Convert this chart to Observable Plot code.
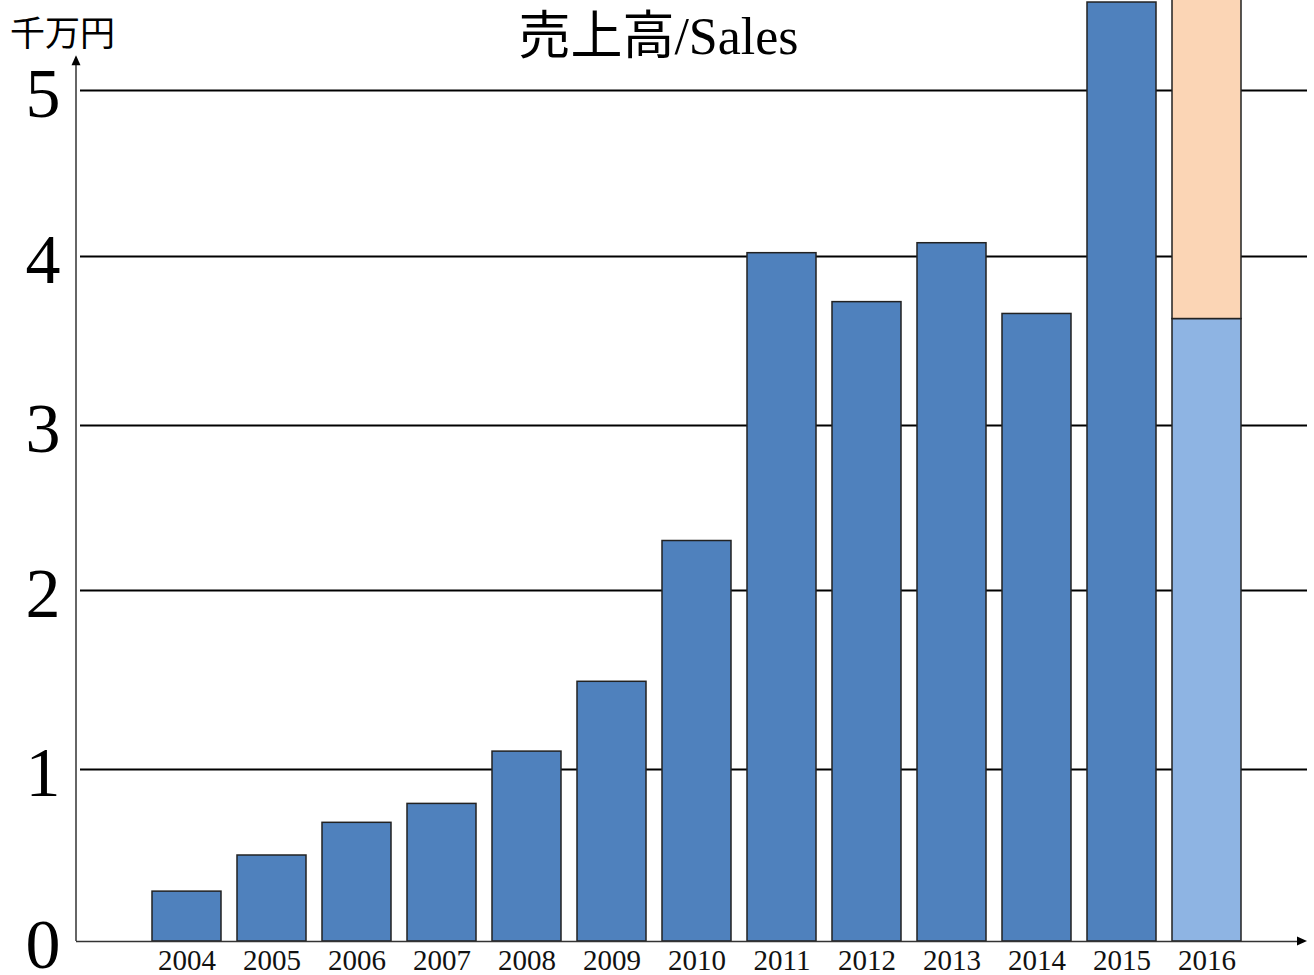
<!DOCTYPE html>
<html>
<head>
<meta charset="utf-8">
<script src="https://cdn.jsdelivr.net/npm/d3@7"></script>
<script src="https://cdn.jsdelivr.net/npm/@observablehq/plot@0.6"></script>
<style>
  html, body { margin: 0; padding: 0; background: #fff; overflow: hidden; }
</style>
</head>
<body>
<div id="chart"></div>
<script>
// ---- data ----
const years = ["2004","2005","2006","2007","2008","2009","2010","2011","2012","2013","2014","2015","2016"];
const salesActual = [0.29, 0.50, 0.69, 0.80, 1.10, 1.49, 2.30, 4.02, 3.73, 4.08, 3.66, 5.53, 3.63];
const forecastYear = "2016";
const forecastExtra = [2.07];
const kinds = ["実績", "2016年実績", "2016年予想"];
const yTicks = [0, 1, 2, 3, 4, 5];
const titleText = ["売上高/Sales"];
const unitText = ["千万円"];

// ---- table ----
const rows = years.map((yr, i) => ({
  year: yr,
  kind: yr === forecastYear ? kinds[1] : kinds[0],
  value: salesActual[i]
}));
forecastExtra.forEach(v => rows.push({year: forecastYear, kind: kinds[2], value: v}));

// ---- layout ----
const FONT = '"Liberation Serif", "Noto Sans CJK JP", serif';
const W = 1314, H = 975, ML = 76, MR = 7, MT = 0, MB = 34;
const axisTopValue = 5.21;

const plot = Plot.plot({
  width: W, height: H,
  marginLeft: ML, marginRight: MR, marginTop: MT, marginBottom: MB,
  style: {fontFamily: FONT, background: "#fff", color: "#000", overflow: "visible"},
  x: {type: "band", domain: years, range: [131, 1263], padding: 0.183, label: null},
  y: {type: "linear", domain: yTicks, range: [941, 769, 590, 425, 256, 90], label: null},
  color: {domain: kinds, range: ["#4F81BD", "#8EB4E3", "#FBD5B5"]},
  marks: [
    Plot.ruleY(yTicks.filter(d => d > 0), {stroke: "#000", strokeWidth: 2, insetLeft: 4}),
    Plot.barY(rows, {x: "year", y: "value", fill: "kind", stroke: "#222", strokeWidth: 1.5}),
    Plot.ruleY([0], {stroke: "#333", strokeWidth: 1.5, insetRight: 10}),
    Plot.axisX({tickSize: 0, tickPadding: 8, fontSize: 29, fontFamily: FONT, fill: "#111", label: null}),
    Plot.axisY(yTicks, {tickSize: 0, tickPadding: 16, fontSize: 70, fontFamily: FONT, fill: "#000", dy: 4, label: null, tickFormat: d => String(d)}),
    Plot.text(titleText, {text: d => d, frameAnchor: "top-left", lineAnchor: "middle", dx: 582, dy: 37, fontSize: 52, fontFamily: FONT, textAnchor: "middle", fill: "#000"}),
    Plot.text(unitText, {text: d => d, frameAnchor: "top-left", lineAnchor: "middle", dx: -14, dy: 34, fontSize: 35, fontFamily: FONT, textAnchor: "middle", fill: "#000"})
  ]
});

// axis arrows using the plot's own y scale
const ys = plot.scale("y");
const y0 = ys.apply(0), yTop = ys.apply(axisTopValue);
const g = d3.select(plot).append("g");
g.append("line")
  .attr("x1", ML).attr("x2", ML).attr("y1", y0).attr("y2", yTop + 9)
  .attr("stroke", "#333").attr("stroke-width", 1.5);
g.append("path").attr("d", `M${ML},${yTop} l-4.5,10 h9 z`).attr("fill", "#000");
g.append("path").attr("d", `M${W - MR},${y0} l-10,-4.5 v9 z`).attr("fill", "#000");

document.getElementById("chart").appendChild(plot);
</script>
</body>
</html>
